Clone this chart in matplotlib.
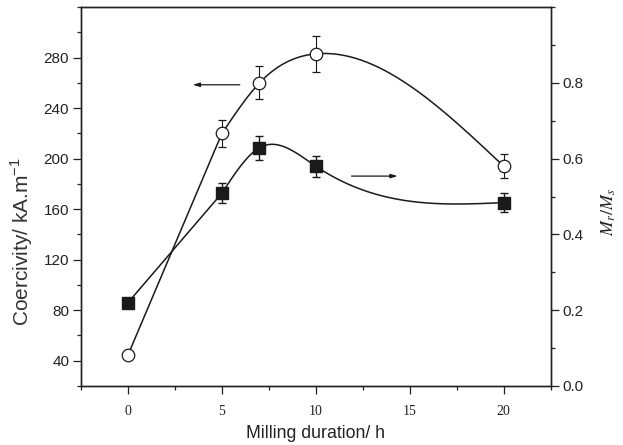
import numpy as np
import matplotlib.pyplot as plt
from matplotlib.ticker import MultipleLocator

# milling time (h)
hours = [0, 5, 7, 10, 20]
# coercivity, kA/m (open circles, left axis)
coercivity = [44.5, 220, 260, 283, 194]
coercivity_err = [3, 11, 13, 14, 9.5]
# Mr/Ms (filled squares, right axis)
ratio = [0.22, 0.509, 0.629, 0.58, 0.484]
ratio_err = [0, 0.026, 0.032, 0.028, 0.025]


def natural_spline(x, y, xs):
    # plain natural cubic spline, only used to draw the smooth guide line
    x = np.asarray(x, float)
    y = np.asarray(y, float)
    n = len(x)
    h = np.diff(x)
    A = np.zeros((n, n))
    b = np.zeros(n)
    A[0, 0] = A[-1, -1] = 1
    for i in range(1, n - 1):
        A[i, i - 1] = h[i - 1]
        A[i, i] = 2 * (h[i - 1] + h[i])
        A[i, i + 1] = h[i]
        b[i] = 3 * ((y[i + 1] - y[i]) / h[i] - (y[i] - y[i - 1]) / h[i - 1])
    c = np.linalg.solve(A, b)
    out = np.empty_like(xs)
    for k, t in enumerate(xs):
        i = min(max(np.searchsorted(x, t) - 1, 0), n - 2)
        bb = (y[i + 1] - y[i]) / h[i] - h[i] * (2 * c[i] + c[i + 1]) / 3
        d = (c[i + 1] - c[i]) / (3 * h[i])
        dt = t - x[i]
        out[k] = y[i] + bb * dt + c[i] * dt ** 2 + d * dt ** 3
    return out


def guide(x, y):
    xs = np.linspace(x[1], x[-1], 300)
    ys = natural_spline(x[1:], y[1:], xs)
    return np.r_[x[0], xs], np.r_[y[0], ys]


fig = plt.figure(figsize=(6.23, 4.45), dpi=100)
ax = fig.add_axes([0.130, 0.1326, 0.754, 0.8514])
ax2 = ax.twinx()

gx, gy = guide(hours, coercivity)
ax.plot(gx, gy, color='#1a1a1a', lw=1.1)
ax.errorbar(hours, coercivity, yerr=coercivity_err, fmt='o', ms=9,
            mfc='white', mec='#1a1a1a', mew=0.9, ecolor='#1a1a1a',
            elinewidth=0.8, capsize=3, capthick=0.8, zorder=3)

gx, gy = guide(hours, ratio)
ax2.plot(gx, gy, color='#1a1a1a', lw=1.1)
ax2.errorbar(hours, ratio, yerr=ratio_err, fmt='s', ms=9,
             mfc='#1a1a1a', mec='#1a1a1a', ecolor='#1a1a1a',
             elinewidth=1.0, capsize=3, capthick=1.0, zorder=3)

ax.annotate('', xy=(3.3, 258.5), xytext=(6.1, 258.5),
            arrowprops=dict(arrowstyle='-|>,head_length=0.4,head_width=0.12',
                            color='#1a1a1a', lw=0.9))
ax2.annotate('', xy=(14.5, 0.554), xytext=(11.75, 0.554),
             arrowprops=dict(arrowstyle='-|>,head_length=0.4,head_width=0.12',
                             color='#1a1a1a', lw=0.9))

ax.set_xlim(-2.5, 22.5)
ax.set_ylim(20, 320)
ax2.set_ylim(0, 1.0)

ax.xaxis.set_major_locator(MultipleLocator(5))
ax.xaxis.set_minor_locator(MultipleLocator(2.5))
ax.set_yticks([40, 80, 120, 160, 200, 240, 280])
ax.yaxis.set_minor_locator(MultipleLocator(20))
ax2.set_yticks([0.0, 0.2, 0.4, 0.6, 0.8])
ax2.set_yticklabels(['0.0', '0.2', '0.4', '0.6', '0.8'])
ax2.yaxis.set_minor_locator(MultipleLocator(0.1))

for a in (ax, ax2):
    for s in a.spines.values():
        s.set_linewidth(1.0)
        s.set_color('#222222')
    a.tick_params(which='major', length=5.5, width=0.9, colors='#222222',
                  labelcolor='#222222', pad=3)
    a.tick_params(which='minor', length=3, width=0.9, colors='#222222')

ax.tick_params(axis='x', which='both', top=False, pad=8)
for lab in ax.get_xticklabels():
    lab.set_fontfamily('Liberation Serif')
    lab.set_fontsize(10)
for lab in ax.get_yticklabels() + ax2.get_yticklabels():
    lab.set_fontfamily('Liberation Sans')
    lab.set_fontsize(11)

ax.set_xlabel('Milling duration/ h', fontfamily='Liberation Sans',
              fontsize=12.8, color='#222222', labelpad=5)
ax.set_ylabel(r'Coercivity/ kA.m$^{\mathregular{-1}}$',
              fontfamily='Liberation Sans', fontsize=15, color='#333333')
ax.yaxis.set_label_coords(-0.098, 0.38)
ax2.set_ylabel('$M_r/M_s$', fontsize=13, color='#222222',
               math_fontfamily='stix')
ax2.yaxis.set_label_coords(1.105, 0.46)

fig.savefig('out.png', dpi=100)
